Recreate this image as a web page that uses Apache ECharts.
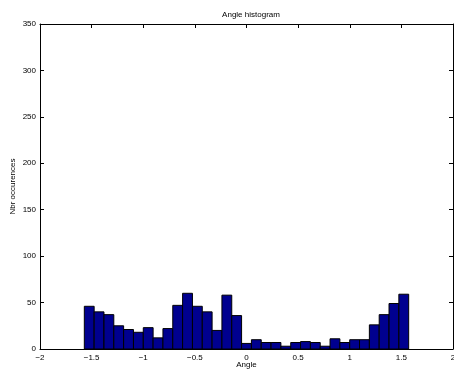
<!DOCTYPE html>
<html>
<head>
<meta charset="utf-8">
<script src="https://cdn.jsdelivr.net/npm/echarts@6/dist/echarts.min.js"></script>
<style>html,body{margin:0;padding:0;background:#fff}#c{width:454px;height:372px}</style>
</head>
<body>
<div id="c"></div>
<script>
var titleText = 'Angle histogram';
var xLabel = 'Angle';
var yLabel = 'Nbr occurences';
var binStart = -Math.PI / 2;
var binWidth = Math.PI / 33;
var counts = [46, 40, 37, 25, 21, 18, 23, 12, 22, 47, 60, 46, 40, 20, 58, 36, 6, 10, 7, 7, 3, 7, 8, 7, 3, 11, 7, 10, 10, 26, 37, 49, 59];
var xTicks = [-2, -1.5, -1, -0.5, 0, 0.5, 1, 1.5, 2];
var yTicks = [0, 50, 100, 150, 200, 250, 300, 350];

var FONT = 'Liberation Sans, Arial, sans-serif';
var data = counts.map(function (v, i) { return [binStart + i * binWidth, binStart + (i + 1) * binWidth, v]; });

function fmt(v) { return String(v).replace('-', '\u2212'); }

var baseAxis = {
  axisLine: { show: true, onZero: false, lineStyle: { color: '#000', width: 1 } },
  axisTick: { show: true, inside: true, length: 4, lineStyle: { color: '#000' } },
  splitLine: { show: false },
  axisLabel: { color: '#000', fontFamily: FONT, fontSize: 8 }
};

var chart = echarts.init(document.getElementById('c'), null, { renderer: 'canvas' });
chart.setOption({
  backgroundColor: '#fff',
  animation: false,
  title: {
    text: titleText, left: 246, top: 6, textAlign: 'center',
    textStyle: { fontFamily: FONT, fontSize: 8, fontWeight: 'normal', color: '#000' }
  },
  grid: { left: 40, right: 1, top: 24, bottom: 23, containLabel: false, outerBoundsMode: 'none' },
  xAxis: [
    Object.assign({}, baseAxis, {
      type: 'value', min: -2, max: 2, interval: 0.5, position: 'bottom',
      name: xLabel, nameLocation: 'middle', nameGap: 12, nameMoveOverlap: false,
      nameTextStyle: { fontFamily: FONT, fontSize: 8, color: '#000' },
      axisLabel: Object.assign({}, baseAxis.axisLabel, { margin: 5, formatter: function (v) { return fmt(v); } })
    }),
    Object.assign({}, baseAxis, {
      type: 'value', min: -2, max: 2, interval: 0.5, position: 'top',
      axisLabel: { show: false }
    })
  ],
  yAxis: [
    Object.assign({}, baseAxis, {
      type: 'value', min: 0, max: 350, interval: 50, position: 'left',
      name: yLabel, nameLocation: 'middle', nameGap: 23, nameRotate: 90, nameMoveOverlap: false,
      nameTextStyle: { fontFamily: FONT, fontSize: 8, color: '#000' },
      axisLabel: Object.assign({}, baseAxis.axisLabel, { margin: 4 })
    }),
    Object.assign({}, baseAxis, {
      type: 'value', min: 0, max: 350, interval: 50, position: 'right',
      axisLabel: { show: false }
    })
  ],
  series: [{
    type: 'custom',
    xAxisIndex: 0, yAxisIndex: 0,
    data: data,
    encode: { x: [0, 1], y: 2 },
    renderItem: function (params, api) {
      var p0 = api.coord([api.value(0), api.value(2)]);
      var p1 = api.coord([api.value(1), 0]);
      return {
        type: 'rect',
        shape: { x: p0[0], y: p0[1], width: p1[0] - p0[0], height: p1[1] - p0[1] },
        style: { fill: '#00008F', stroke: '#000', lineWidth: 1 }
      };
    }
  }]
});
</script>
</body>
</html>
